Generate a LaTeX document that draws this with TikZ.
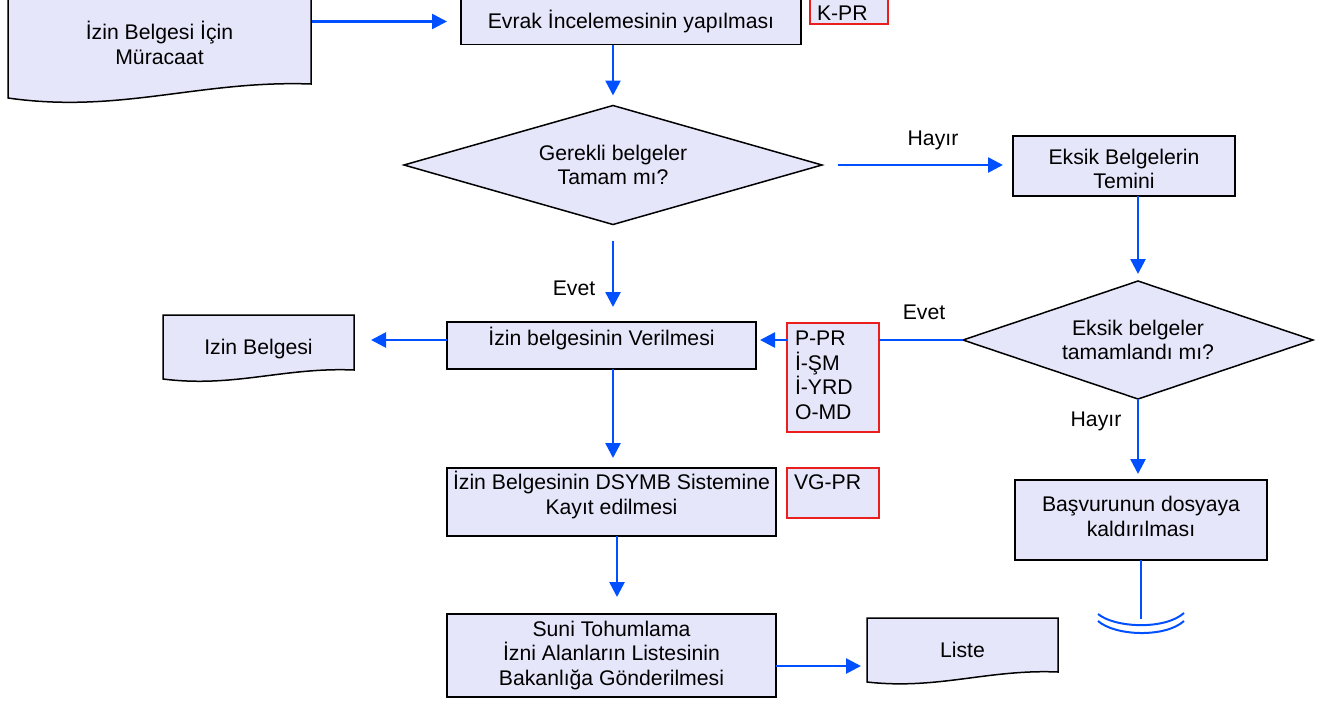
\documentclass[tikz,border=0pt]{standalone}
\usepackage{fontspec}
\setmainfont{Liberation Sans}
\usetikzlibrary{shapes.geometric,arrows.meta}
\definecolor{boxfill}{RGB}{230,230,250}
\definecolor{flow}{RGB}{0,80,255}
\definecolor{refred}{RGB}{235,30,30}
\begin{document}
\begin{tikzpicture}[x=1pt,y=-1pt,
  every node/.style={font=\fontsize{21.2}{24.5}\selectfont, inner sep=0pt, outer sep=0pt},
  box/.style={rectangle, draw=black, line width=1.5pt, fill=boxfill, align=center},
  refbox/.style={rectangle, draw=refred, line width=1.3pt, fill=boxfill},
  decpath/.style={draw=black, line width=1.5pt, fill=boxfill},
  docpath/.style={draw=black, line width=1.5pt, fill=boxfill},
  txt/.style={align=center},
  flowline/.style={draw=flow, line width=2.6pt},
  arr/.style={flowline, -{Triangle[width=15pt,length=15pt]}}]
\useasboundingbox (0,0) rectangle (1332,702);

% document shapes
\path[docpath] (8,-2) -- (311,-2) -- (311,84) .. controls (200,80) and (120,114) .. (8,98) -- cycle;
\node[txt, minimum width=303pt, minimum height=84pt] (doc1) at (159.5,43) {İzin Belgesi İçin\\Müracaat};

\path[docpath] (163,315) -- (354,315) -- (354,370) .. controls (284,367) and (234,388) .. (163,379) -- cycle;
\node[txt, minimum width=191pt, minimum height=55pt] (izb) at (258.5,349) {Izin Belgesi};

\path[docpath] (867,618) -- (1058,618) -- (1058,672) .. controls (988,669) and (938,690) .. (867,682) -- cycle;
\node[txt, minimum width=191pt, minimum height=54pt] (liste) at (962.5,650) {Liste};

% process boxes
\node[box, minimum width=340pt, minimum height=46pt] (ev) at (631,21.5) {Evrak İncelemesinin yapılması};
\node[refbox, minimum width=78pt, minimum height=27pt] (kpr) at (849,10.5) {};
\node[anchor=west] (kprt) at (817,13) {K-PR};

\node[box, minimum width=222pt, minimum height=60pt] (eks) at (1124,166) {};
\node[txt] (ekst) at (1124,169) {Eksik Belgelerin\\Temini};

\node[box, minimum width=309pt, minimum height=47pt] (ver) at (601.5,345.5) {};
\node[txt] (vert) at (601.5,338) {İzin belgesinin Verilmesi};

\node[refbox, minimum width=92pt, minimum height=109pt] (ppr) at (833,377.5) {};
\node[anchor=north west, align=left] (pprt) at (795,331) {P-PR\\İ-ŞM\\İ-YRD\\O-MD};

\node[box, minimum width=329pt, minimum height=68pt] (dsy) at (611.5,502) {};
\node[txt] (dsyt) at (611.5,495) {İzin Belgesinin DSYMB Sistemine\\Kayıt edilmesi};

\node[refbox, minimum width=92pt, minimum height=50pt] (vg) at (833,493) {};
\node[anchor=west] (vgt) at (794,482) {VG-PR};

\node[box, minimum width=329pt, minimum height=83pt] (suni) at (611.5,655.5) {Suni Tohumlama\\İzni Alanların Listesinin\\Bakanlığa Gönderilmesi};

\node[box, minimum width=252pt, minimum height=80pt] (bas) at (1141,520) {};
\node[txt] (bast) at (1141,516.5) {Başvurunun dosyaya\\kaldırılması};

% decisions
\path[decpath] (404,165) -- (613,105.5) -- (822,165) -- (613,224.5) -- cycle;
\node[txt, minimum width=418pt, minimum height=119pt] (d1) at (613,165) {Gerekli belgeler\\Tamam mı?};
\path[decpath] (963,340) -- (1138,281) -- (1313,340) -- (1138,399) -- cycle;
\node[txt, minimum width=350pt, minimum height=118pt] (d2) at (1138,340) {Eksik belgeler\\tamamlandı mı?};

% labels
\node (h1) at (933,140) {Hayır};
\node (e1) at (574,288) {Evet};
\node (e2) at (924,312) {Evet};
\node (h2) at (1096,421) {Hayır};

% connectors
\draw[arr, shorten <=1pt, shorten >=14pt] (doc1.east |- ev.west) -- (ev.west);
\draw[arr, shorten >=10pt] (d1.north |- ev.south) -- (d1.north);
\draw[arr, shorten <=16pt, shorten >=10pt] (d1.east) -- (d1.east -| eks.west);
\draw[arr, shorten >=7pt] (d2.north |- eks.south) -- (d2.north);
\draw[arr, shorten <=16pt, shorten >=15pt] (d1.south) -- (d1.south |- ver.north);
\draw[flowline] (d2.west) -- (d2.west -| ppr.east);
\draw[arr, shorten >=4pt] (d2.west -| ppr.west) -- (d2.west -| ver.east);
\draw[arr, shorten >=17pt] (ver.west |- d2.west) -- (izb.east |- d2.west);
\draw[arr, shorten >=10pt] (ver.south -| d1.south) -- (dsy.north -| d1.south);
\draw[arr, shorten >=17pt] ([xshift=5.5pt]dsy.south) -- ([xshift=5.5pt]suni.north);
\draw[arr, shorten >=6pt] ([yshift=-10.5pt]suni.east) -- ([yshift=-10.5pt]suni.east -| liste.west);
\draw[arr, shorten >=6pt] (d2.south) -- (d2.south |- bas.north);
\coordinate (term) at (1141,619);
\draw[flowline] (bas.south) -- (term);
\draw[draw=flow, line width=2pt] (1098,614) .. controls (1115,628) and (1165,630) .. (1184,613);
\draw[draw=flow, line width=2pt] (1098,621) .. controls (1115,636) and (1165,638) .. (1184,621);
\end{tikzpicture}
\end{document}
